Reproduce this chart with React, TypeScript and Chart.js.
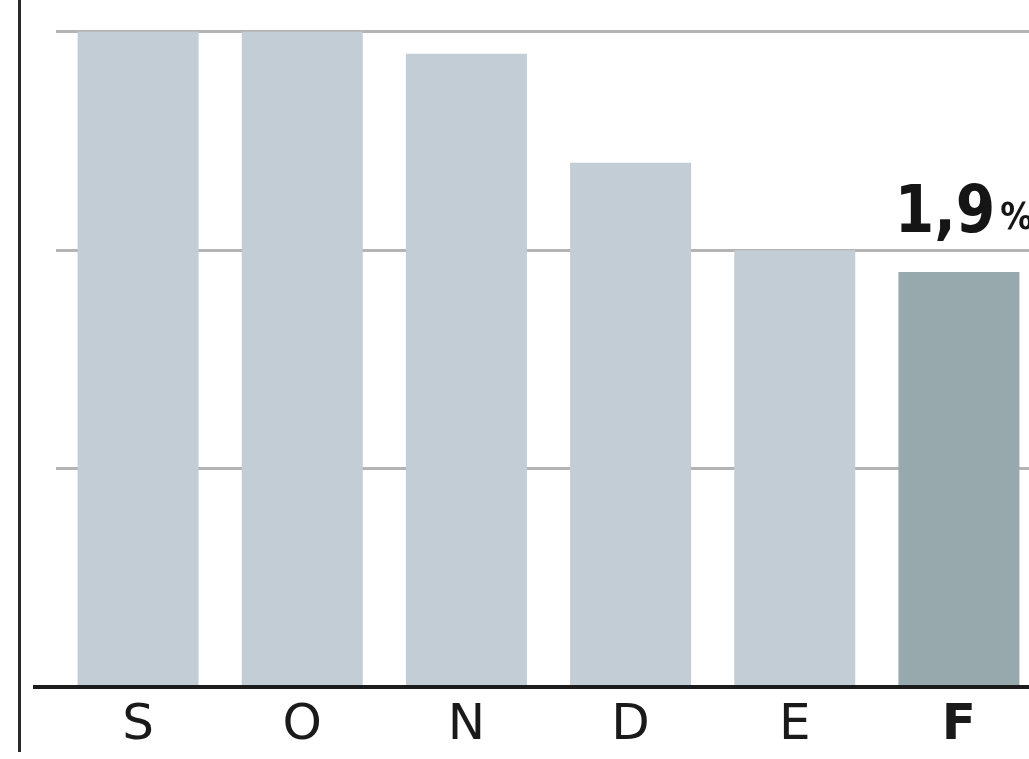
import React, { useEffect, useRef } from "react";
import { Chart, registerables } from "chart.js";

Chart.register(...registerables);

// ---- data ----
const months: string[] = ["S", "O", "N", "D", "E", "F"];
const values: number[] = [3.0, 3.0, 2.9, 2.4, 2.0, 1.9];
const gridValues: number[] = [1, 2, 3];
const highlightIndex = 5;
const unitLabel = "%";

const baseColor = "#c3cdd6";
const highlightColor = "#97a9ad";
const barColors: string[] = months.map((_, i) => (i === highlightIndex ? highlightColor : baseColor));

const decorPlugin = {
  id: "decor",
  afterDatasetsDraw(chart: any) {
    const { ctx } = chart;
    const yScale = chart.scales.y;
    const y0 = yScale.getPixelForValue(0);
    ctx.save();
    // baseline
    ctx.strokeStyle = "#1c1c1c";
    ctx.lineWidth = 4;
    ctx.beginPath();
    ctx.moveTo(33, y0);
    ctx.lineTo(chart.width, y0);
    ctx.stroke();

    // value label on highlighted bar
    const bar = chart.getDatasetMeta(0).data[highlightIndex];
    if (bar) {
      const label = values[highlightIndex].toFixed(1).replace(".", ",");
      const sx = 0.86;
      const big = "bold 66px 'DejaVu Sans'";
      const small = "bold 38px 'DejaVu Sans'";
      ctx.font = big;
      const w1 = ctx.measureText(label).width * sx;
      ctx.font = small;
      const w2 = ctx.measureText(unitLabel).width * sx;
      const gap = 5;
      const total = w1 + gap + w2;
      const startX = bar.x - total / 2 + 5;
      const baseY = bar.y - 40;
      ctx.fillStyle = "#151515";
      ctx.textBaseline = "alphabetic";
      ctx.textAlign = "left";
      ctx.save();
      ctx.translate(startX, baseY);
      ctx.scale(sx, 1);
      ctx.font = big;
      ctx.fillText(label, 0, 0);
      ctx.restore();
      ctx.save();
      ctx.translate(startX + w1 + gap, baseY - 3);
      ctx.scale(sx, 1);
      ctx.font = small;
      ctx.fillText(unitLabel, 0, 0);
      ctx.restore();
    }
    ctx.restore();
  },
};

export default function App() {
  const canvasRef = useRef<HTMLCanvasElement | null>(null);

  useEffect(() => {
    if (!canvasRef.current) return;
    const chart = new Chart(canvasRef.current, {
      type: "bar",
      data: {
        labels: months,
        datasets: [
          {
            data: values,
            backgroundColor: barColors,
            borderWidth: 0,
            categoryPercentage: 1,
            barPercentage: 0.737,
          },
        ],
      },
      options: {
        responsive: false,
        animation: false,
        devicePixelRatio: 1,
        layout: { padding: { left: 56, right: 19, top: 10, bottom: 4 } },
        plugins: {
          legend: { display: false },
          tooltip: { enabled: false },
          title: { display: false },
        },
        scales: {
          x: {
            grid: { display: false, drawTicks: false },
            border: { display: false },
            ticks: {
              padding: 9,
              color: "#1a1a1a",
              font: (ctx: any) => ({
                family: "'DejaVu Sans'",
                size: 50,
                weight: ctx.index === highlightIndex ? "bold" : "normal",
              }),
            },
          },
          y: {
            min: 0,
            max: 3.1,
            ticks: { display: false, stepSize: 1 },
            border: { display: false },
            grid: {
              drawTicks: false,
              lineWidth: 3,
              color: (ctx: any) =>
                ctx.tick && gridValues.includes(ctx.tick.value) ? "#b4b4b4" : "rgba(0,0,0,0)",
            },
          },
        },
      },
      plugins: [decorPlugin],
    });
    return () => chart.destroy();
  }, []);

  return (
    <div
      style={{
        position: "absolute",
        left: 0,
        top: 0,
        width: 1029,
        height: 759,
        overflow: "hidden",
        background: "#ffffff",
      }}
    >
      <div
        style={{
          position: "absolute",
          left: 18,
          top: 0,
          width: 3,
          height: 752,
          background: "#2a2a2a",
          zIndex: 1,
        }}
      />
      <canvas ref={canvasRef} width={1060} height={769} style={{ display: "block" }} />
    </div>
  );
}
